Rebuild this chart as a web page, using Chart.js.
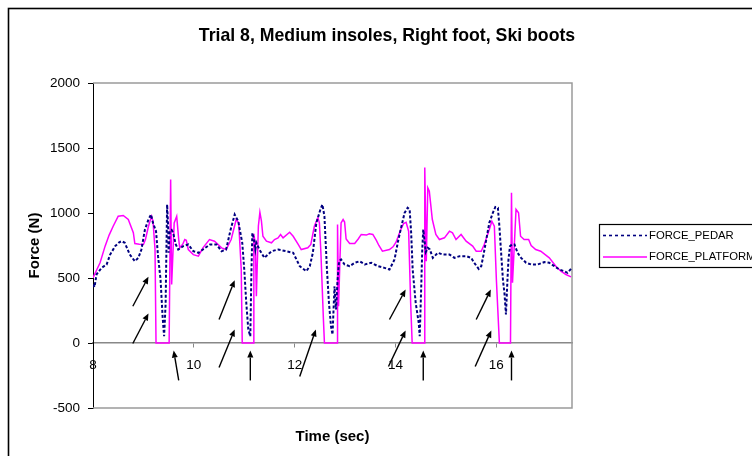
<!DOCTYPE html>
<html><head><meta charset="utf-8">
<style>html,body{margin:0;padding:0;overflow:hidden;background:#fff;width:752px;height:456px}canvas{display:block}</style>
<script src="https://cdn.jsdelivr.net/npm/chart.js@4.4.1/dist/chart.umd.min.js"></script>
</head><body>
<canvas id="c" width="775" height="470"></canvas>
<script>
const chartTitle = "Trial 8, Medium insoles, Right foot, Ski boots";
const xAxisTitle = "Time (sec)";
const yAxisTitle = "Force (N)";
const seriesNames = ["FORCE_PEDAR", "FORCE_PLATFORM"];
const xTickValues = [8, 10, 12, 14, 16];
const yTickValues = [-500, 0, 500, 1000, 1500, 2000];

const pedarTime = [8.00,8.03,8.07,8.17,8.27,8.34,8.44,8.52,8.57,8.63,8.73,8.83,8.90,8.96,9.03,9.10,9.15,9.19,9.25,9.29,9.34,9.38,9.41,9.44,9.45,9.47,9.49,9.50,9.52,9.56,9.59,9.64,9.69,9.79,9.89,9.99,10.09,10.18,10.32,10.45,10.55,10.64,10.73,10.81,10.88,10.96,11.00,11.04,11.08,11.12,11.14,11.16,11.19,11.22,11.24,11.30,11.40,11.54,11.67,11.83,11.97,12.10,12.23,12.30,12.36,12.43,12.51,12.55,12.59,12.64,12.68,12.72,12.75,12.79,12.82,12.85,12.88,12.92,12.99,13.09,13.19,13.29,13.39,13.52,13.65,13.78,13.88,13.98,14.05,14.11,14.18,14.24,14.28,14.31,14.34,14.40,14.44,14.46,14.48,14.51,14.53,14.55,14.60,14.64,14.68,14.74,14.84,14.94,15.07,15.17,15.27,15.40,15.50,15.56,15.65,15.70,15.74,15.80,15.86,15.93,15.98,16.03,16.06,16.09,16.13,16.16,16.19,16.22,16.24,16.27,16.31,16.36,16.42,16.49,16.59,16.69,16.82,16.95,17.05,17.15,17.25,17.35,17.41,17.48];
const pedarForce = [450,430,527,578,604,680,745,775,783,771,680,629,655,719,873,950,988,924,860,668,488,206,52,300,565,1065,900,694,860,870,847,760,719,745,758,706,694,719,758,758,706,719,873,988,937,771,565,309,104,52,514,847,800,720,771,719,655,706,719,706,694,591,552,591,694,924,1027,1065,975,565,309,129,65,437,258,480,629,642,604,591,617,629,604,617,591,578,565,642,783,886,1001,1040,1027,847,565,309,206,155,52,437,719,873,700,732,720,655,694,680,680,655,668,668,655,617,570,591,668,796,924,1001,1047,1040,898,719,488,386,219,488,642,745,758,758,694,655,617,604,604,622,617,591,565,552,540,570];

const platformTime = [8.00,8.07,8.14,8.24,8.32,8.40,8.50,8.60,8.70,8.80,8.83,8.92,9.00,9.04,9.10,9.16,9.19,9.23,9.25,9.51,9.54,9.56,9.61,9.66,9.70,9.72,9.78,9.82,9.85,9.89,9.99,10.09,10.18,10.31,10.41,10.55,10.64,10.74,10.84,10.89,10.94,10.96,11.18,11.19,11.22,11.24,11.28,11.31,11.34,11.37,11.44,11.54,11.60,11.67,11.72,11.77,11.90,11.97,12.07,12.13,12.26,12.32,12.39,12.46,12.49,12.52,12.57,12.59,12.84,12.85,12.87,12.92,12.96,12.99,13.02,13.09,13.19,13.26,13.32,13.42,13.48,13.55,13.62,13.67,13.74,13.88,13.95,14.01,14.11,14.16,14.21,14.26,14.30,14.33,14.57,14.58,14.61,14.64,14.67,14.73,14.80,14.87,14.97,15.07,15.13,15.20,15.30,15.40,15.53,15.60,15.70,15.76,15.86,15.91,15.96,16.00,16.06,16.28,16.30,16.32,16.39,16.44,16.48,16.55,16.64,16.69,16.78,16.88,17.05,17.18,17.28,17.38,17.48];
const platformForce = [501,560,617,745,830,898,975,981,950,848,765,760,758,796,898,975,937,719,0,0,1258,450,924,975,796,732,760,796,790,719,680,668,732,796,783,732,719,796,950,924,565,0,0,840,760,360,900,1005,940,821,783,771,796,809,835,809,852,821,758,719,732,758,898,963,924,694,181,0,0,911,283,924,950,930,800,765,765,800,835,830,840,835,790,750,706,719,740,775,878,919,929,860,309,0,0,1350,629,1194,1168,950,835,796,809,860,847,796,835,783,745,706,706,758,873,937,898,488,0,0,1155,463,1027,1001,821,796,796,750,719,706,655,591,552,527,509];

const arrowTailTime  = [8.79, 8.79, 9.70, 10.50, 10.50, 11.12, 12.10, 13.88, 13.86, 14.55, 15.60, 15.58, 16.30];
const arrowTailForce = [283, -4, -288, 181, -189, -288, -258, 181, -181, -288, 181, -181, -288];
const arrowHeadTime  = [9.10, 9.10, 9.60, 10.81, 10.81, 11.12, 12.42, 14.20, 14.20, 14.55, 15.89, 15.90, 16.30];
const arrowHeadForce = [509, 227, -58, 483, 104, -58, 104, 411, 96, -58, 411, 96, -58];

const FONT = '"Liberation Sans", Arial, sans-serif';
const pedarColor = '#000080';
const platformColor = '#FF00FF';

function pts(t, f) { return t.map((v, i) => ({x: v, y: f[i]})); }

const decor = {
  id: 'decor',
  beforeDatasetsDraw(chart) {
    const {ctx, chartArea: a} = chart;
    ctx.save();
    ctx.strokeStyle = '#9a9a9a';
    ctx.lineWidth = 1.5;
    ctx.beginPath();
    ctx.moveTo(a.left, a.top); ctx.lineTo(a.right, a.top);
    ctx.lineTo(a.right, a.bottom); ctx.lineTo(a.left, a.bottom);
    ctx.stroke();
    ctx.restore();
  },
  afterDatasetsDraw(chart) {
    const {ctx, scales: {x, y}} = chart;
    ctx.save();
    ctx.strokeStyle = '#000'; ctx.fillStyle = '#000'; ctx.lineWidth = 1.4;
    for (let i = 0; i < arrowTailTime.length; i++) {
      const x1 = x.getPixelForValue(arrowTailTime[i]), y1 = y.getPixelForValue(arrowTailForce[i]);
      const x2 = x.getPixelForValue(arrowHeadTime[i]), y2 = y.getPixelForValue(arrowHeadForce[i]);
      const ang = Math.atan2(y2 - y1, x2 - x1);
      const L = 7, W = 3;
      const bx = x2 - L * Math.cos(ang), by = y2 - L * Math.sin(ang);
      ctx.beginPath(); ctx.moveTo(x1, y1); ctx.lineTo(bx, by); ctx.stroke();
      ctx.beginPath();
      ctx.moveTo(x2, y2);
      ctx.lineTo(bx + W * Math.sin(ang), by - W * Math.cos(ang));
      ctx.lineTo(bx - W * Math.sin(ang), by + W * Math.cos(ang));
      ctx.closePath(); ctx.fill();
    }
    ctx.restore();
  },
  afterDraw(chart) {
    const {ctx, chartArea: a} = chart;
    ctx.save();
    ctx.strokeStyle = '#000'; ctx.lineWidth = 1.6;
    ctx.strokeRect(8.5, 8.5, 780, 500);
    ctx.fillStyle = '#000';
    ctx.textAlign = 'center'; ctx.textBaseline = 'alphabetic';
    ctx.font = 'bold 17.7px ' + FONT;
    ctx.fillText(chartTitle, 387, 40.5);
    ctx.font = 'bold 15px ' + FONT;
    ctx.textBaseline = 'middle';
    ctx.fillText(xAxisTitle, (a.left + a.right) / 2, 437);
    ctx.save();
    ctx.translate(35, (a.top + a.bottom) / 2);
    ctx.rotate(-Math.PI / 2);
    ctx.fillText(yAxisTitle, 0, 0);
    ctx.restore();
    ctx.lineWidth = 1.2; ctx.strokeStyle = '#000';
    ctx.strokeRect(599.5, 224.5, 200, 43);
    ctx.lineWidth = 1.6;
    ctx.strokeStyle = pedarColor; ctx.setLineDash([3, 3]);
    ctx.beginPath(); ctx.moveTo(603, 235.5); ctx.lineTo(647, 235.5); ctx.stroke();
    ctx.setLineDash([]);
    ctx.strokeStyle = platformColor;
    ctx.beginPath(); ctx.moveTo(603, 257); ctx.lineTo(647, 257); ctx.stroke();
    ctx.fillStyle = '#000'; ctx.textAlign = 'left'; ctx.textBaseline = 'middle';
    ctx.font = '11.3px ' + FONT;
    ctx.fillText(seriesNames[0], 649, 235.5);
    ctx.fillText(seriesNames[1], 649, 257);
    ctx.restore();
  }
};

new Chart(document.getElementById('c'), {
  type: 'line',
  data: {
    datasets: [
      {label: seriesNames[0], data: pts(pedarTime, pedarForce), borderColor: pedarColor, borderWidth: 2, borderDash: [3, 2], pointRadius: 0, tension: 0, fill: false, order: 1},
      {label: seriesNames[1], data: pts(platformTime, platformForce), borderColor: platformColor, borderWidth: 1.5, pointRadius: 0, tension: 0, fill: false, order: 2}
    ]
  },
  options: {
    responsive: false,
    animation: false,
    devicePixelRatio: 1,
    layout: {padding: {left: 8, right: 203, top: 83, bottom: 62}},
    plugins: {legend: {display: false}, title: {display: false}, tooltip: {enabled: false}},
    scales: {
      x: {
        type: 'linear',
        position: {y: 0},
        min: 8, max: 17.5,
        afterBuildTicks: s => { s.ticks = xTickValues.map(v => ({value: v})); },
        ticks: {color: '#000', font: {family: FONT, size: 13.5}, padding: 10, maxRotation: 0, autoSkip: false, callback: v => String(v)},
        grid: {drawOnChartArea: false, drawTicks: true, tickLength: 4, color: '#888', lineWidth: 1},
        border: {color: '#888', width: 1.5}
      },
      y: {
        type: 'linear',
        min: -500, max: 2000,
        afterBuildTicks: s => { s.ticks = yTickValues.map(v => ({value: v})); },
        afterFit: s => { s.width = 85; },
        ticks: {color: '#000', font: {family: FONT, size: 13.5}, padding: 8, autoSkip: false, callback: v => String(v)},
        grid: {drawOnChartArea: false, drawTicks: true, tickLength: 5, color: '#000', lineWidth: 1},
        border: {color: '#000', width: 1}
      }
    }
  },
  plugins: [decor]
});
</script>
</body></html>
